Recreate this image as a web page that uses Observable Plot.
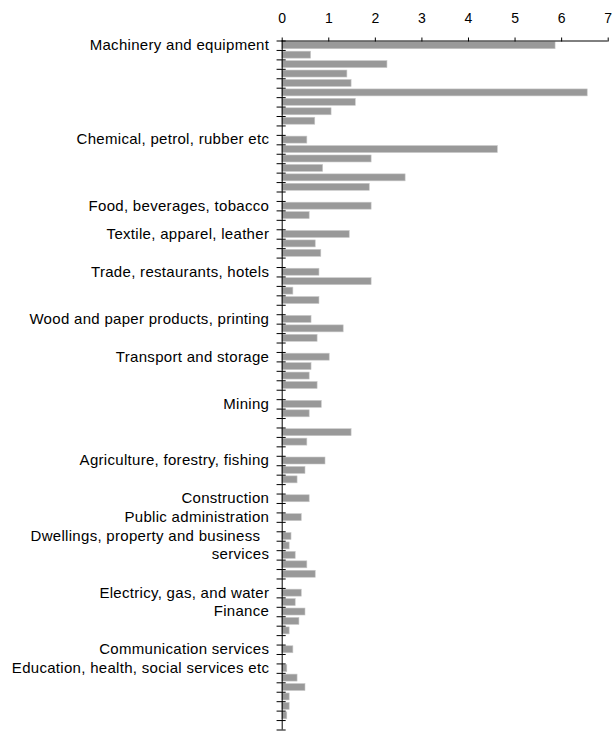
<!DOCTYPE html>
<html>
<head>
<meta charset="utf-8">
<script src="https://cdn.jsdelivr.net/npm/d3@7"></script>
<script src="https://cdn.jsdelivr.net/npm/@observablehq/plot@0.6"></script>
<style>
  html, body { margin: 0; padding: 0; background: #fff; }
  #chart svg { display: block; }
  g[aria-label="y-axis tick label"] text { letter-spacing: 0.3px; }
</style>
</head>
<body>
<div id="chart"></div>
<script>
// One entry per row of the chart (top to bottom); "" = row without a label
const categories = [
  "Machinery and equipment", "", "", "", "", "", "", "", "", "",
  "Chemical, petrol, rubber etc", "", "", "", "", "", "",
  "Food, beverages, tobacco", "", "",
  "Textile, apparel, leather", "", "", "",
  "Trade, restaurants, hotels", "", "", "", "",
  "Wood and paper products, printing", "", "", "",
  "Transport and storage", "", "", "", "",
  "Mining", "", "", "", "", "",
  "Agriculture, forestry, fishing", "", "", "",
  "Construction", "",
  "Public administration", "", "",
  "Dwellings, property and business\u00a0\u00a0\nservices", "", "", "", "",
  "Electricy, gas, and water", "",
  "Finance", "", "", "",
  "Communication services", "",
  "Education, health, social services etc", "", "", "", "", "", ""
];

// Bar values per row (null = empty row)
const values = [
  5.87, 0.62, 2.26, 1.40, 1.49, 6.56, 1.58, 1.06, 0.71, null,
  0.54, 4.63, 1.92, 0.88, 2.65, 1.88, null,
  1.92, 0.59, null,
  1.45, 0.72, 0.84, null,
  0.80, 1.92, 0.24, 0.80, null,
  0.63, 1.32, 0.76, null,
  1.02, 0.63, 0.59, 0.76, null,
  0.85, 0.59, null,
  1.49, 0.54, null,
  0.93, 0.50, 0.33, null,
  0.59, null,
  0.42, null,
  0.20, 0.16, 0.29, 0.54, 0.72, null,
  0.42, 0.29,
  0.50, 0.37, 0.16, null,
  0.24, null,
  0.11, 0.33, 0.50, 0.16, 0.16, 0.11, null
];

const xTicks = [0, 1, 2, 3, 4, 5, 6, 7];

const n = categories.length;
const rows = values.map((v, i) => ({i, value: v})).filter(d => d.value != null);
const labeled = categories.map((c, i) => ({i, c})).filter(d => d.c !== "");
const labelOf = new Map(labeled.map(d => [d.i + 0.5, d.c]));

const chart = Plot.plot({
  width: 613,
  height: 731,
  marginTop: 40.5,
  marginBottom: 1.5,
  marginLeft: 281.7,
  marginRight: 5.3,
  style: {fontFamily: "'Liberation Sans', Arial, sans-serif", background: "#fff", color: "#000"},
  x: {domain: [0, 7]},
  y: {domain: [n, 0]},
  marks: [
    Plot.rect(rows, {
      x1: 0,
      x2: "value",
      y1: d => d.i + 0.13,
      y2: d => d.i + 0.87,
      fill: "#999999",
      stroke: "#c8c8c8",
      strokeWidth: 0.6
    }),
    Plot.ruleX([0], {y1: 0, y2: n, stroke: "#000"}),
    Plot.ruleY([0], {x1: 0, x2: 7, stroke: "#000"}),
    Plot.ruleY(d3.range(n + 1), {x1: -0.11, x2: 0.085, stroke: "#000"}),
    Plot.axisX({
      anchor: "top",
      ticks: xTicks,
      tickFormat: d => String(d),
      tickSize: 4,
      tickPadding: 14,
      fontSize: 14,
      label: null
    }),
    Plot.axisY({
      ticks: labeled.map(d => d.i + 0.5),
      tickFormat: t => labelOf.get(t),
      tickSize: 0,
      tickPadding: 13,
      fontSize: 15,
      lineHeight: 1.22,
      dy: -1.5,
      label: null
    })
  ]
});

document.getElementById("chart").appendChild(chart);
</script>
</body>
</html>
